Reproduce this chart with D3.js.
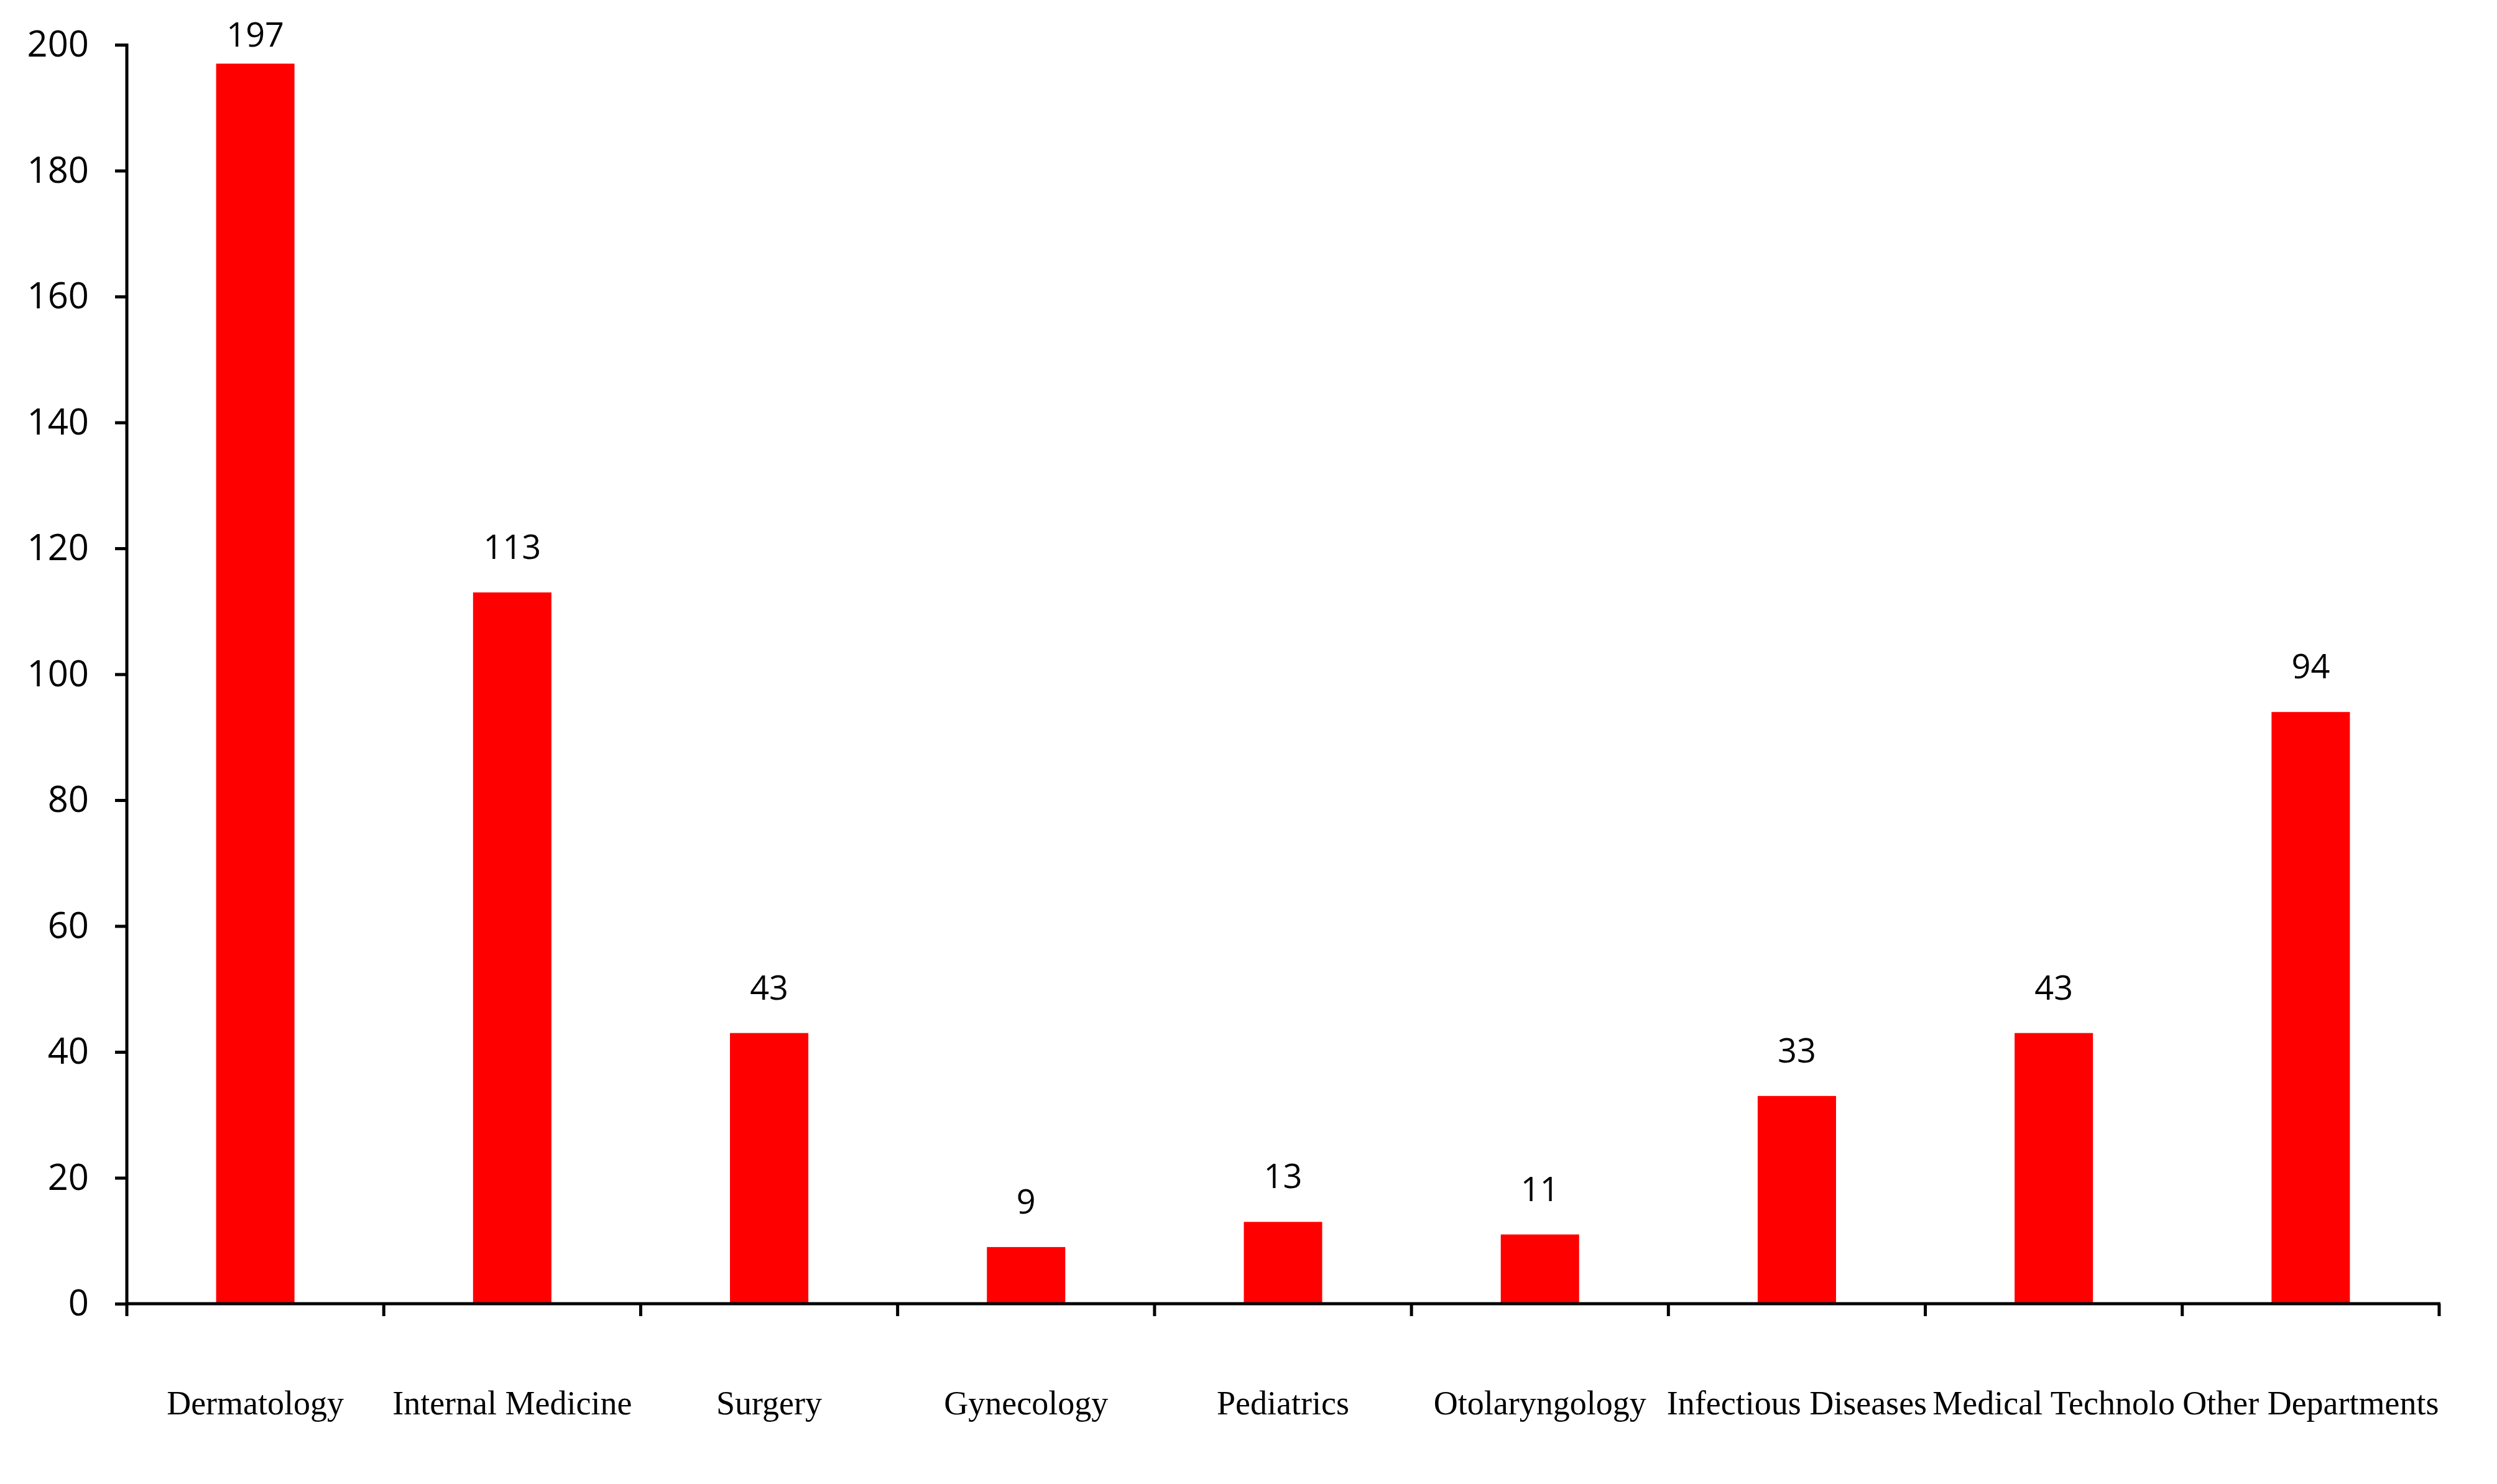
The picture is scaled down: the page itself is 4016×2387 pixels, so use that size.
<!DOCTYPE html>
<html>
<head>
<meta charset="utf-8">
<script src="https://cdn.jsdelivr.net/npm/d3@7/dist/d3.min.js"></script>
<style>
  html, body { margin: 0; padding: 0; background: #fff; }
  svg { display: block; }
</style>
</head>
<body>
<svg id="chart" width="4016" height="2387"></svg>
<script>
const categories = ["Dermatology", "Internal Medicine", "Surgery", "Gynecology", "Pediatrics",
  "Otolaryngology", "Infectious Diseases", "Medical Technolo", "Other Departments"];
const values = [197, 113, 43, 9, 13, 11, 33, 43, 94];
const yTicks = [0, 20, 40, 60, 80, 100, 120, 140, 160, 180, 200];

(function () {
const mLeft = 204, mRight = 3923, mTop = 72, mBottom = 2097;

const svg = d3.select("#chart");

const x = d3.scaleBand().domain(categories).range([mLeft, mRight]).padding(0);
const y = d3.scaleLinear().domain([0, 200]).range([mBottom, mTop]);

const barW = x.bandwidth() * 0.305;

// bars
svg.append("g").selectAll("rect").data(categories).join("rect")
  .attr("x", (d) => x(d) + x.bandwidth() / 2 - barW / 2)
  .attr("y", (d, i) => y(values[i]))
  .attr("width", barW)
  .attr("height", (d, i) => y(0) - y(values[i]))
  .attr("fill", "#ff0000");

// value labels
svg.append("g").selectAll("text").data(categories).join("text")
  .attr("x", (d) => x(d) + x.bandwidth() / 2)
  .attr("y", (d, i) => Math.max(y(values[i]) - 54, 75))
  .attr("text-anchor", "middle")
  .attr("font-family", "'Open Sans', 'Noto Sans', sans-serif")
  .attr("font-size", 54)
  .attr("fill", "#000")
  .text((d, i) => values[i]);

// y axis
const yAxis = svg.append("g")
  .attr("transform", `translate(${mLeft},0)`)
  .call(d3.axisLeft(y).tickValues(yTicks).tickSize(19).tickPadding(42).tickSizeOuter(0));
yAxis.select(".domain").remove();
yAxis.selectAll(".tick line").attr("stroke", "#000").attr("stroke-width", 5);
yAxis.selectAll(".tick text")
  .attr("font-family", "'Open Sans', 'Noto Sans', sans-serif")
  .attr("font-size", 58)
  .attr("fill", "#000");
yAxis.append("line")
  .attr("x1", 0).attr("x2", 0)
  .attr("y1", y(200) - 2).attr("y2", y(0))
  .attr("stroke", "#000").attr("stroke-width", 5);

// x axis
const xg = svg.append("g");
xg.append("line")
  .attr("x1", mLeft).attr("x2", mRight + 2)
  .attr("y1", y(0)).attr("y2", y(0))
  .attr("stroke", "#000").attr("stroke-width", 5);
const bounds = categories.map((d) => x(d)).concat([x(categories[categories.length - 1]) + x.step()]);
xg.selectAll("line.xt").data(bounds).join("line")
  .attr("class", "xt")
  .attr("x1", (d) => d).attr("x2", (d) => d)
  .attr("y1", y(0)).attr("y2", y(0) + 20)
  .attr("stroke", "#000").attr("stroke-width", 5);

// category labels
xg.selectAll("text").data(categories).join("text")
  .attr("x", (d) => x(d) + x.bandwidth() / 2)
  .attr("y", 2275)
  .attr("text-anchor", "middle")
  .attr("font-family", "'Liberation Serif', 'Times New Roman', serif")
  .attr("font-size", 54)
  .attr("fill", "#000")
  .text((d) => d);
})();
</script>
</body>
</html>
